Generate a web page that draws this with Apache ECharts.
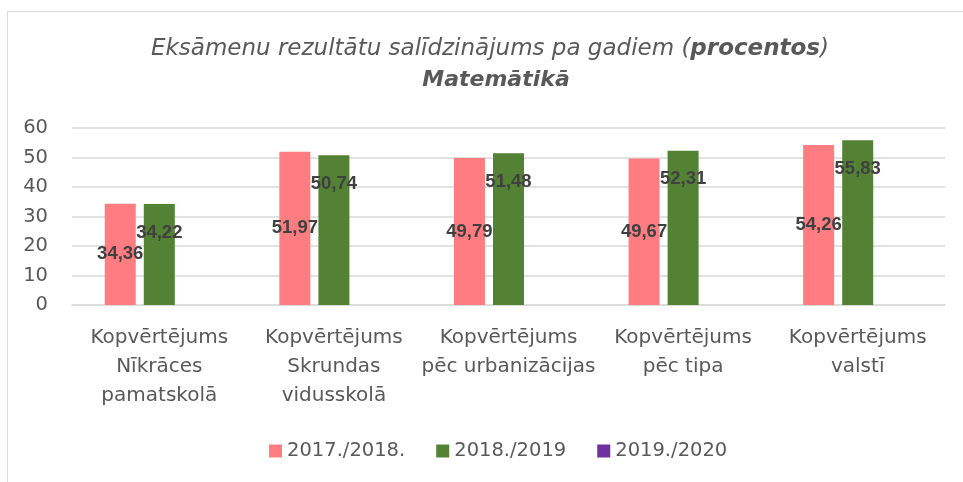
<!DOCTYPE html>
<html>
<head>
<meta charset="utf-8">
<script src="https://cdn.jsdelivr.net/npm/echarts@6/dist/echarts.min.js"></script>
<style>
  html, body { margin: 0; padding: 0; background: #fff; }
  #chart { width: 963px; height: 482px; }
</style>
</head>
<body>
<div id="chart"></div>
<script>
// kategorijas un vērtības
const categories = [
  'Kopvērtējums\nNīkrāces\npamatskolā',
  'Kopvērtējums\nSkrundas\nvidusskolā',
  'Kopvērtējums\npēc urbanizācijas',
  'Kopvērtējums\npēc tipa',
  'Kopvērtējums\nvalstī'
]
const seriesNames = ['2017./2018.', '2018./2019', '2019./2020']
const y2018 = [34.36, 51.97, 49.79, 49.67, 54.26]
const y2019 = [34.22, 50.74, 51.48, 52.31, 55.83]
const y2020 = [null, null, null, null, null]

const font = 'DejaVu Sans'
const labelFont = 'Liberation Sans'
const fmt = (p) => String(p.value).replace('.', ',')
const labelStyle = {
  show: true,
  formatter: fmt,
  fontFamily: labelFont,
  fontSize: 18.5,
  fontWeight: 'bold',
  color: '#404040'
}

const myChart = echarts.init(document.getElementById('chart'))
const option = {
  backgroundColor: '#fff',
  animation: false,
  graphic: [{
    type: 'rect',
    shape: { x: 7.5, y: 11.5, width: 1000, height: 500 },
    style: { fill: 'none', stroke: '#d9d9d9', lineWidth: 1 }
  }],
  title: {
    left: 485,
    top: 29,
    textAlign: 'center',
    text: '{a|Eksāmenu rezultātu salīdzinājums pa gadiem (}{b|procentos}{a|)}\n{c|Matemātikā}',
    textStyle: {
      fontWeight: 'normal',
      rich: {
        a: { fontFamily: font, fontSize: 23, fontStyle: 'italic', fontWeight: 'normal', color: '#595959', lineHeight: 31 },
        b: { fontFamily: font, fontSize: 23, fontStyle: 'italic', fontWeight: 'bold', color: '#595959', lineHeight: 31 },
        c: { fontFamily: font, fontSize: 22, fontStyle: 'italic', fontWeight: 'bold', color: '#595959', lineHeight: 31, padding: [0, 0, 0, 12] }
      }
    }
  },
  legend: {
    left: 264,
    top: 436,
    itemWidth: 13,
    itemHeight: 13,
    itemGap: 31,
    icon: 'rect',
    textStyle: { fontFamily: font, fontSize: 19.5, color: '#595959' },
    data: seriesNames
  },
  grid: { left: 72, right: 18, top: 128, bottom: 177 },
  xAxis: {
    type: 'category',
    data: categories,
    axisLine: { lineStyle: { color: '#d9d9d9', width: 1.5 } },
    axisTick: { show: false },
    axisLabel: {
      interval: 0,
      margin: 18,
      fontFamily: font,
      fontSize: 20,
      lineHeight: 29,
      color: '#595959'
    }
  },
  yAxis: {
    type: 'value',
    min: 0,
    max: 60,
    interval: 10,
    axisLine: { show: false },
    axisTick: { show: false },
    splitLine: { lineStyle: { color: '#d9d9d9', width: 1.5 } },
    axisLabel: { margin: 24, fontFamily: font, fontSize: 19.5, color: '#595959' }
  },
  series: [
    {
      name: seriesNames[0],
      type: 'bar',
      data: y2018,
      barWidth: 31,
      barGap: '26%',
      itemStyle: { color: '#FF7C80' },
      label: Object.assign({}, labelStyle, { position: 'inside' })
    },
    {
      name: seriesNames[1],
      type: 'bar',
      data: y2019,
      barWidth: 31,
      barGap: '26%',
      itemStyle: { color: '#548235' },
      label: Object.assign({}, labelStyle, { position: 'insideTop', distance: 19 })
    },
    {
      name: seriesNames[2],
      type: 'bar',
      data: y2020,
      barWidth: 31,
      barGap: '26%',
      itemStyle: { color: '#7030A0' }
    }
  ]
}
myChart.setOption(option)
</script>
</body>
</html>
